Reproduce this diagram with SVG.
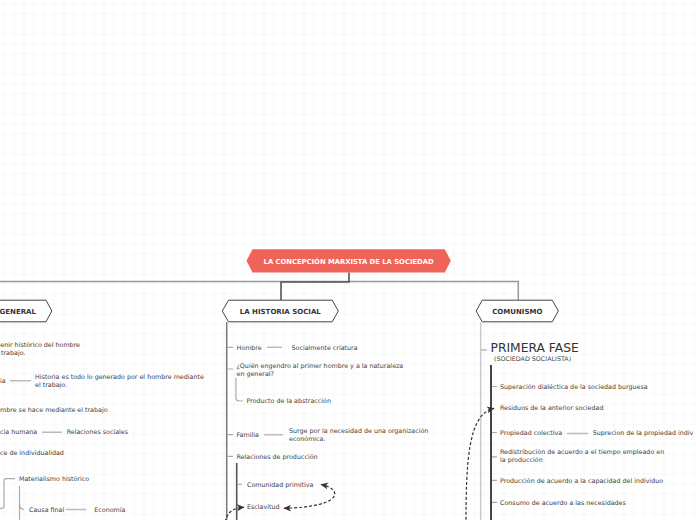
<svg xmlns="http://www.w3.org/2000/svg" width="696" height="520" viewBox="0 0 696 520">
<defs>
<pattern id="grid" x="3.5" y="3.5" width="10" height="10" patternUnits="userSpaceOnUse">
<path d="M0,0 H10 M0,0 V10" fill="none" stroke="#efefef" stroke-width="1"/>
</pattern>
<marker id="arr" viewBox="0 0 8 8" refX="7" refY="4" markerWidth="8" markerHeight="8" markerUnits="userSpaceOnUse" orient="auto-start-reverse">
<path d="M0,0.5 L7.5,4 L0,7.5 L2,4 z" fill="#333"/>
</marker>
<style>
text{font-family:"DejaVu Sans",Verdana,sans-serif;fill:#444;font-size:6.35px}
.node{fill:#fff;stroke:#444;stroke-width:1}
.nl{font-weight:bold;font-size:7px;fill:#333;text-anchor:middle}
.tick{stroke:#aaa;stroke-width:1.2;fill:none}
.lk{stroke:#bbb;stroke-width:1.5;fill:none}
.dash{stroke:#333;stroke-width:1.2;stroke-dasharray:3,2;fill:none}
</style>
</defs>
<rect width="696" height="520" fill="#fff"/>
<rect width="696" height="520" fill="url(#grid)"/>

<g id="connectors">
<path d="M0,281.5 H518.3 V300" fill="none" stroke="#999" stroke-width="1.5"/>
<path d="M349,272.5 V282 H281 V300" fill="none" stroke="#555" stroke-width="1.6"/>
<path d="M226.7,322 V520" fill="none" stroke="#777" stroke-width="1.5"/>
<path class="tick" d="M227,347.3 H233 M227,369 H233 M227,434.7 H233 M227,456.3 H233"/>
<path class="lk" d="M267,347.3 H282 M264,434.7 H283"/>
<path class="tick" d="M236,378 V398 Q236,401 239,401 H243"/>
<path d="M236.7,463 V520" fill="none" stroke="#555" stroke-width="1.6"/>
<path class="tick" d="M237,484.3 H242"/>
<path d="M480.7,322 V520" fill="none" stroke="#ccc" stroke-width="1.5"/>
<path class="tick" d="M481,350 H487"/>
<path d="M491,365 V520" fill="none" stroke="#444" stroke-width="2"/>
<path class="tick" d="M492,386.5 H497 M492,432.5 H497 M492,456.8 H497 M492,480.3 H497 M492,502.3 H497"/>
<path class="lk" d="M567,433.5 H588"/>
<path class="lk" d="M10,380.8 H31 M42,432.3 H62 M65.7,509.5 H86"/>
<path class="tick" d="M0,508.3 H2 Q4,508.3 4,506 V481 Q4,478.7 6.3,478.7 H15"/>
<path class="tick" d="M19.5,486 V520 M19.5,503 Q19.5,509.5 24,509.5"/>
<path class="dash" d="M466,525 C466,462 468,414 494,408.3" marker-end="url(#arr)"/>
<path class="dash" d="M321,484.5 C343,489 344,507 284,508.3" marker-start="url(#arr)" marker-end="url(#arr)"/>
<path class="dash" d="M225,522 C227,513 232,508 244,507.3" marker-end="url(#arr)"/>
</g>

<g id="root">
<path d="M246.5,260.8 L252.5,249.2 H444.8 L450.8,260.8 L444.8,272.4 H252.5 z" fill="#f06359"/>
<text x="348.6" y="263.6" style="font-weight:bold;font-size:6.8px;fill:#fff;text-anchor:middle">LA CONCEPCIÓN MARXISTA DE LA SOCIEDAD</text>
</g>

<g id="general">
<path class="node" d="M-70,311 L-64,300.2 H46 L51.8,311 L46,321.8 H-64 z"/>
<text class="nl" x="36" y="313.5" style="text-anchor:end">GENERAL</text>
<text x="0.3" y="346.5">enir histórico del hombre</text>
<text x="1" y="354.5">trabajo.</text>
<text x="0" y="383">ia</text>
<text x="35" y="379">Historia es todo lo generado por el hombre mediante</text>
<text x="35" y="387">el trabajo.</text>
<text x="0" y="412">mbre se hace mediante el trabajo</text>
<text x="0" y="434">cia humana</text>
<text x="66.7" y="434">Relaciones sociales</text>
<text x="0" y="455">ce de individualidad</text>
<text x="19" y="481">Materialismo histórico</text>
<text x="29" y="512">Causa final</text>
<text x="94.3" y="512">Economía</text>
</g>

<g id="historia">
<path class="node" d="M222.3,311 L228.5,300.2 H332.2 L338.3,311 L332.2,321.8 H228.5 z"/>
<text class="nl" x="280.3" y="313.6">LA HISTORIA SOCIAL</text>
<text x="236.5" y="349.5">Hombre</text>
<text x="291.5" y="349.5">Socialmente criatura</text>
<text x="236.5" y="367.7">¿Quién engendro al primer hombre y a la naturaleza</text>
<text x="236.5" y="375.6">en general?</text>
<text x="246.5" y="403">Producto de la abstracción</text>
<text x="236.5" y="436.8">Familia</text>
<text x="289" y="432.8">Surge por la necesidad de una organización</text>
<text x="289" y="440.8">económica.</text>
<text x="236.5" y="458.6">Relaciones de producción</text>
<text x="247" y="486.5">Comunidad primitiva</text>
<text x="247" y="508.6">Esclavitud</text>
</g>

<g id="comunismo">
<path class="node" d="M476.2,311 L482.2,300.2 H552.3 L558.3,311 L552.3,321.8 H482.2 z"/>
<text class="nl" x="517.3" y="313.6">COMUNISMO</text>
<text x="490.5" y="352" style="font-size:12.3px;fill:#333">PRIMERA FASE</text>
<text x="494" y="360.8">(SOCIEDAD SOCIALISTA)</text>
<text x="500" y="388.7">Superación dialéctica de la sociedad burguesa</text>
<text x="500" y="410.3">Residuos de la anterior sociedad</text>
<text x="500" y="434.8">Propiedad colectiva</text>
<text x="592.7" y="434.8">Suprecion de la propiedad indiv</text>
<text x="500" y="454.2">Redistribución de acuerdo a el tiempo empleado en</text>
<text x="500" y="462">la producción</text>
<text x="500" y="482.5">Producción de acuerdo a la capacidad del individuo</text>
<text x="500" y="504.5">Consumo de acuerdo a las necesidades</text>
</g>
</svg>
